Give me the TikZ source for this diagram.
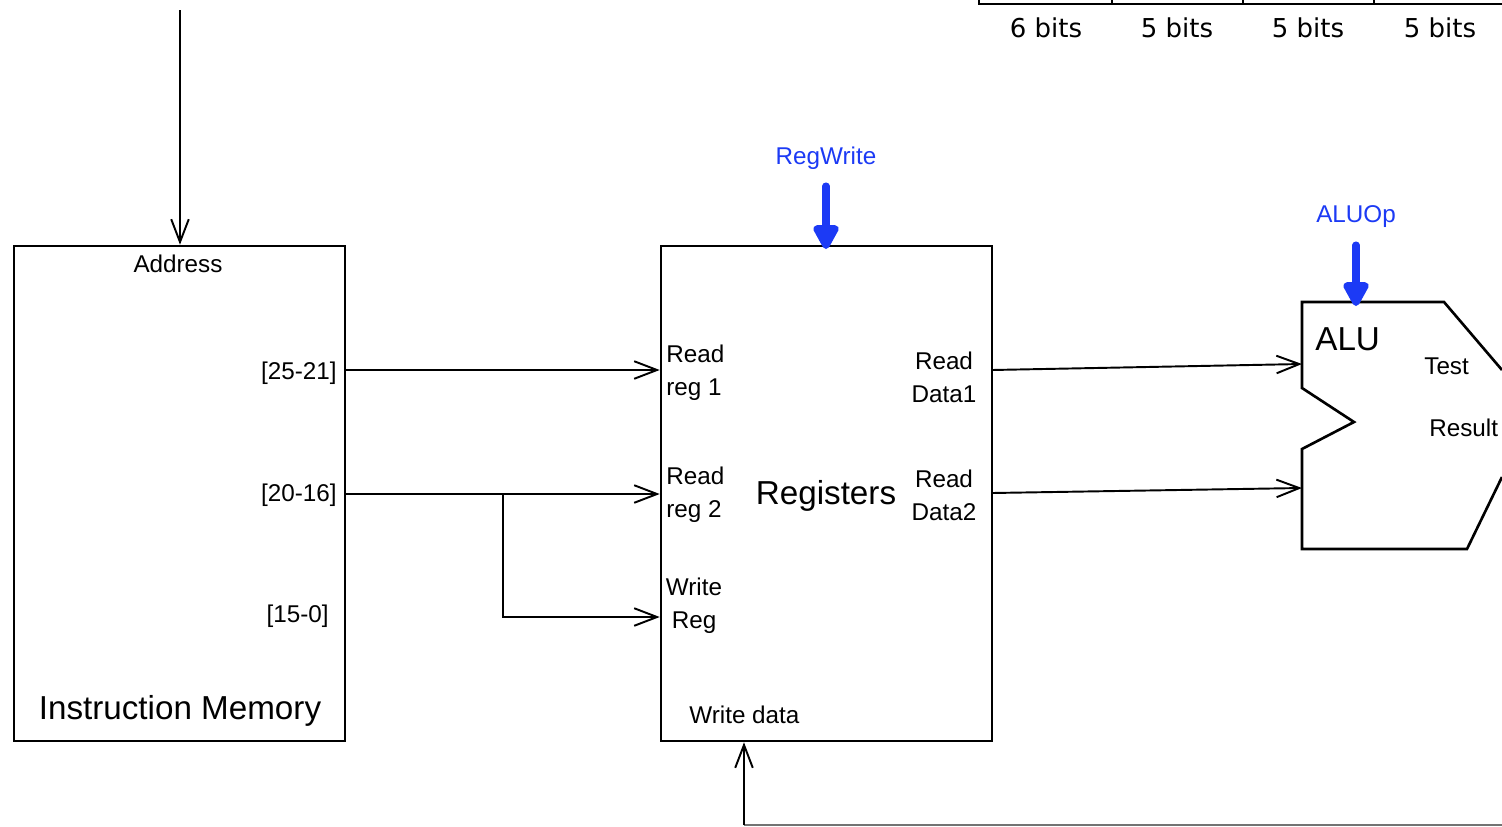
\documentclass[tikz,border=0pt]{standalone}
\usepackage{fontspec}
\setmainfont{Liberation Sans}
\newfontfamily\bitsfont{DejaVu Sans}
\usetikzlibrary{arrows.meta}
\definecolor{ctlblue}{RGB}{28,58,245}
\tikzset{
  blk/.style={draw, line width=1.5pt, minimum width=#1, inner sep=0pt},
  lbl/.style={font=\fontsize{13.8}{18.7}\selectfont, inner sep=0pt},
  big/.style={font=\fontsize{18.9}{22}\selectfont, inner sep=0pt},
  bits/.style={font=\bitsfont\fontsize{14.8}{17}\selectfont, inner sep=0pt},
  ctl/.style={font=\fontsize{13.8}{16}\selectfont, text=ctlblue, inner sep=0pt},
  wire/.style={line width=1.1pt, -{Straight Barb[length=13pt,width=10pt,line width=1.1pt]}},
  ctlarrow/.style={line width=4pt, line cap=round, ctlblue, -{Triangle[length=16pt,width=16pt,round]}},
}
\begin{document}
\begin{tikzpicture}[x=0.02cm,y=-0.02cm]
\useasboundingbox (0,0) rectangle (1502,826);
\fill[white] (0,0) rectangle (1502,826);

% instruction format fields (top right, cut off)
\draw[line width=1.1pt] (979,0) -- (979,4) -- (1502,4);
\foreach \x in {1112,1243,1374} \draw[line width=1.1pt] (\x,0) -- (\x,4);
\node[bits] (b1) at (1046,28) {6 bits};
\node[bits] (b2) at (1177,28) {5 bits};
\node[bits] (b3) at (1308,28) {5 bits};
\node[bits] (b4) at (1440,28) {5 bits};

% instruction memory
\node[blk=6.62cm, minimum height=9.9cm] (im) at (179.5,493.5) {};
\node[lbl] (addr) at (178,264) {Address};
\node[lbl, anchor=east] (f1) at (337,373) {[25-21]};
\node[lbl, anchor=east] (f2) at (337,495) {[20-16]};
\node[lbl, anchor=east] (f3) at (329,616) {[15-0]};
\node[big] (imname) at (180,711) {Instruction Memory};

% registers
\node[blk=6.62cm, minimum height=9.9cm] (rf) at (826.5,493.5) {};
\node[big] (rfname) at (826,496) {Registers};
\node[lbl, anchor=west, align=left] (rr1) at (666,373) {Read\\reg 1};
\node[lbl, anchor=west, align=left] (rr2) at (666,495) {Read\\reg 2};
\node[lbl, align=center] (wr) at (694,606) {Write\\Reg};
\node[lbl, align=center] (rd1) at (944,377) {Read\\Data1};
\node[lbl, align=center] (rd2) at (944,495) {Read\\Data2};
\node[lbl, anchor=west] (wd) at (689,715) {Write data};

% ALU
\draw[line width=1.5pt, line join=miter] (1502,370) -- (1444,302) -- (1302,302) -- (1302,388) -- (1354,422) -- (1302,449) -- (1302,549) -- (1467,549) -- (1502,477);
\node[big, anchor=west] (aluname) at (1315,339) {ALU};
\node[lbl, anchor=west] (test) at (1424,366) {Test};
\node[lbl, anchor=west] (res) at (1429,428) {Result};
\coordinate (aluA) at (1302,364);
\coordinate (aluB) at (1302,488);
\coordinate (aluTop) at (1356,306);

% control signals
\node[ctl] (regwrite) at (826,158) {RegWrite};
\node[ctl] (aluop) at (1356,217) {ALUOp};
\coordinate (rwTop) at (826,186);
\coordinate (rwTip) at (826,249);
\coordinate (aoTop) at (1356,245);
\draw[ctlarrow] (rwTop) -- (rwTip);
\draw[ctlarrow] (aoTop) -- (aluTop);

% wires
\coordinate (pcIn) at (180,10);
\draw[wire] (pcIn) -- (im.north -| pcIn);
\coordinate (s1) at (345,370);
\draw[wire] (s1) -- (rf.west |- s1);
\coordinate (s2) at (345,494);
\coordinate (br) at (503,494);
\coordinate (wrY) at (503,617);
\draw[wire] (s2) -- (rf.west |- s2);
\draw[wire] (br) -- (wrY) -- (rf.west |- wrY);
\coordinate (d1) at (992,370);
\coordinate (d2) at (992,493);
\draw[wire] (d1) -- (aluA);
\draw[wire] (d2) -- (aluB);
\coordinate (fbR) at (1502,825);
\coordinate (fbL) at (744,825);
\draw[line width=1.1pt, black!55] (fbR) -- (fbL);
\draw[wire] (fbL) -- (rf.south -| fbL);
\end{tikzpicture}
\end{document}
